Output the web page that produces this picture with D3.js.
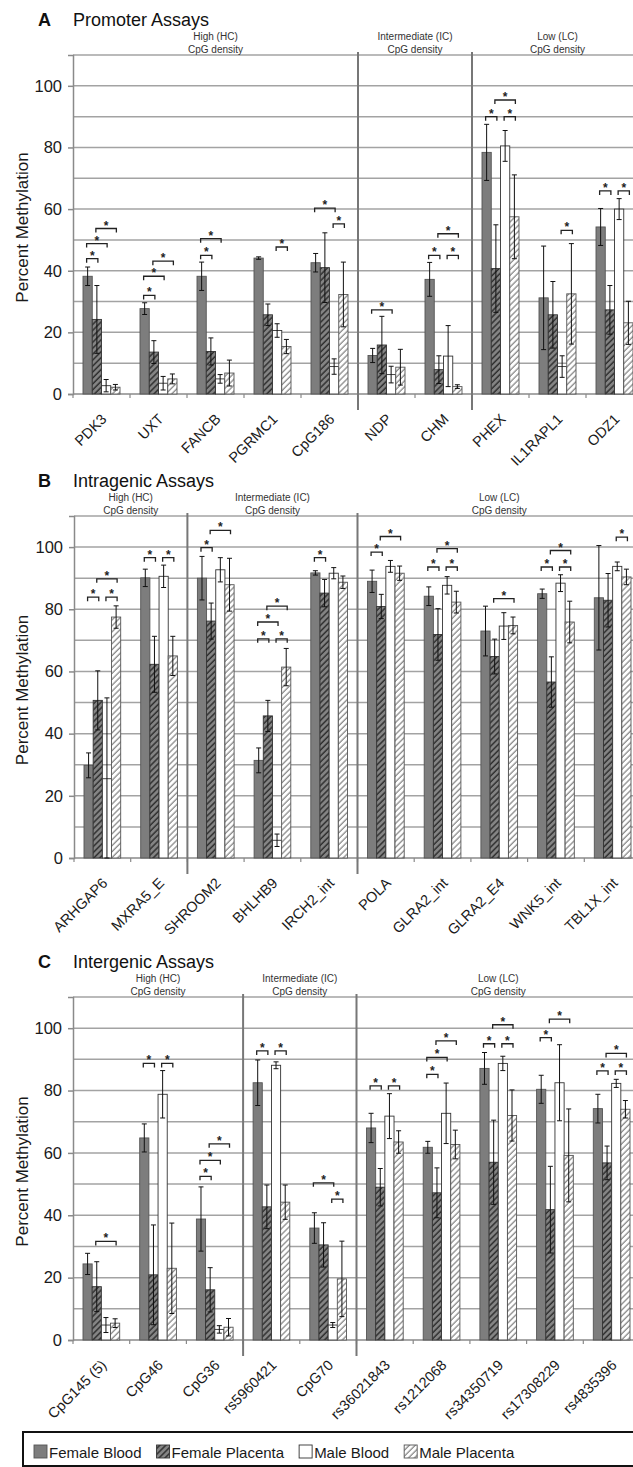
<!DOCTYPE html>
<html>
<head>
<meta charset="utf-8">
<script src="https://cdn.jsdelivr.net/npm/d3@7"></script>
<style>
body { margin: 0; background: #fff; }
svg { display: block; font-family: "Liberation Sans", Arial, sans-serif; }
</style>
</head>
<body>
<div id="chart"></div>
<script>
'use strict';

var seriesNames = ['Female Blood', 'Female Placenta', 'Male Blood', 'Male Placenta'];
var yTicks = [0, 20, 40, 60, 80, 100];

// A - promoter assays
var catsA = ['PDK3', 'UXT', 'FANCB', 'PGRMC1', 'CpG186', 'NDP', 'CHM', 'PHEX', 'IL1RAPL1', 'ODZ1'];
var sectionsA = [['High (HC)', 5], ['Intermediate (IC)', 2], ['Low (LC)', 3]];
var femaleBloodA = [38.2, 27.7, 38.2, 44.1, 42.6, 12.5, 37.2, 78.4, 31.2, 54.2];
var femalePlacentaA = [24.2, 13.6, 13.8, 25.7, 41, 15.9, 7.9, 40.7, 25.7, 27.3];
var maleBloodA = [2.7, 3.5, 4.9, 20.6, 8.9, 6.3, 12.3, 80.5, 8.9, 60];
var malePlacentaA = [2.2, 4.9, 6.8, 15.4, 32.3, 8.7, 2.4, 57.5, 32.5, 23.1];
var errFemaleBloodA = [3, 1.9, 4.6, 0.4, 3, 2.3, 5.5, 9.1, 16.8, 6];
var errFemalePlacentaA = [11, 3.7, 4.4, 3.5, 11.3, 9.3, 4.5, 14.2, 10.8, 7.9];
var errMaleBloodA = [2, 2.2, 1.4, 2.2, 2.5, 2.7, 9.9, 5, 3.5, 3.4];
var errMalePlacentaA = [0.9, 1.6, 4.2, 2.3, 10.5, 5.8, 0.6, 13.6, 16.3, 7];
// [category, from series, to series, height]
var bracketsA = [
	[0, 0, 1, 43.9], [0, 0, 2, 48.8], [0, 1, 3, 53.7],
	[1, 0, 1, 32], [1, 0, 2, 38.2], [1, 1, 3, 43.1],
	[2, 0, 1, 45], [2, 0, 2, 50.4],
	[3, 2, 3, 47.7],
	[4, 0, 2, 60.3], [4, 2, 3, 55.2],
	[5, 0, 2, 27.3],
	[6, 0, 1, 45], [6, 2, 3, 45], [6, 1, 3, 52],
	[7, 0, 1, 90], [7, 2, 3, 90], [7, 1, 3, 95.4],
	[8, 2, 3, 53.1],
	[9, 0, 1, 65.9], [9, 2, 3, 65.9]
];

// B - intragenic assays
var catsB = ['ARHGAP6', 'MXRA5_E', 'SHROOM2', 'BHLHB9', 'IRCH2_int', 'POLA', 'GLRA2_int', 'GLRA2_E4', 'WNK5_int', 'TBL1X_int'];
var sectionsB = [['High (HC)', 2], ['Intermediate (IC)', 3], ['Low (LC)', 5]];
var femaleBloodB = [29.8, 90.1, 90, 31.4, 91.7, 89, 84.2, 73, 85, 83.7];
var femalePlacentaB = [50.7, 62.3, 76.2, 45.7, 85.2, 80.9, 71.9, 64.8, 56.6, 82.9];
var maleBloodB = [25.5, 90.6, 92.7, 5.7, 91.6, 93.8, 87.7, 74.6, 88.4, 93.8];
var malePlacentaB = [77.5, 65, 87.9, 61.4, 88.7, 91.6, 82.3, 74.8, 75.9, 90.4];
var errFemaleBloodB = [4, 2.8, 7, 4, 0.7, 3.6, 3, 8, 1.5, 16.8];
var errFemalePlacentaB = [9.5, 9, 5.8, 5, 4.4, 3.9, 8.3, 5.6, 8.1, 8.6];
var errMaleBloodB = [26, 3.6, 3.9, 2, 1.8, 1.9, 2.8, 4.3, 2.7, 1.4];
var errMalePlacentaB = [3.6, 6.3, 8.5, 6, 2, 2.3, 3.5, 2.7, 6.7, 2.5];
var bracketsB = [
	[0, 0, 1, 83.9], [0, 2, 3, 83.9], [0, 1, 3, 89.8],
	[1, 0, 1, 96.6], [1, 2, 3, 96.6],
	[2, 0, 1, 99.8], [2, 1, 3, 105.4],
	[3, 0, 1, 70.5], [3, 2, 3, 70.5], [3, 0, 2, 75.9], [3, 1, 3, 81],
	[4, 0, 1, 96.6],
	[5, 0, 1, 98.4], [5, 1, 3, 103.4],
	[6, 0, 1, 93.6], [6, 2, 3, 93.6], [6, 1, 3, 99.5],
	[7, 1, 3, 83.4],
	[8, 0, 1, 93.6], [8, 2, 3, 93.6], [8, 1, 3, 98.9],
	[9, 2, 3, 103.2]
];

// C - intergenic assays
var catsC = ['CpG145 (5)', 'CpG46', 'CpG36', 'rs5960421', 'CpG70', 'rs36021843', 'rs1212068', 'rs34350719', 'rs17308229', 'rs4835396'];
var sectionsC = [['High (HC)', 3], ['Intermediate (IC)', 2], ['Low (LC)', 5]];
var femaleBloodC = [24.4, 64.8, 38.8, 82.5, 35.9, 68, 61.8, 87.1, 80.4, 74.2];
var femalePlacentaC = [17.1, 20.9, 16.1, 42.7, 30.5, 49, 47.2, 57, 41.8, 56.8];
var maleBloodC = [4.8, 78.8, 3.4, 88.1, 4.8, 71.8, 72.7, 88.7, 82.5, 82.3];
var malePlacentaC = [5.4, 23, 4.1, 44.2, 19.6, 63.5, 62.7, 72, 59.2, 74];
var errFemaleBloodC = [3.4, 4.5, 10.3, 7.3, 4.9, 4.7, 1.9, 5.1, 4.5, 4.6];
var errFemalePlacentaC = [8, 16, 7.1, 7, 7.1, 6, 8, 13.5, 13.9, 5.4];
var errMaleBloodC = [2.4, 7.6, 1.2, 1.1, 0.8, 7.2, 9.7, 2.3, 12.2, 1.3];
var errMalePlacentaC = [1.4, 14.5, 2.8, 5.5, 12.1, 3.6, 4.6, 8.2, 14.9, 2.8];
var bracketsC = [
	[0, 1, 3, 31.6],
	[1, 0, 1, 88.7], [1, 2, 3, 88.7],
	[2, 0, 1, 52.5], [2, 0, 2, 57.6], [2, 1, 3, 62.9],
	[3, 0, 1, 92.7], [3, 2, 3, 92.7],
	[4, 0, 2, 50.4], [4, 2, 3, 45.2],
	[5, 0, 1, 81.5], [5, 2, 3, 81.5],
	[6, 0, 1, 85.2], [6, 0, 2, 90.6], [6, 1, 3, 95.9],
	[7, 0, 1, 95], [7, 2, 3, 95], [7, 1, 3, 101.1],
	[8, 0, 1, 97], [8, 1, 3, 102.9],
	[9, 0, 1, 86.3], [9, 2, 3, 86.3], [9, 1, 3, 91.9]
];

var W = 633, H = 1467;
var svg = d3.select('#chart').append('svg').attr('width', W).attr('height', H);

var defs = svg.append('defs');
function hatch(id, bg, fg, sw) {
	var p = defs.append('pattern')
		.attr('id', id)
		.attr('patternUnits', 'userSpaceOnUse')
		.attr('width', 4.2).attr('height', 4.2)
		.attr('patternTransform', 'rotate(45)');
	p.append('rect').attr('width', 4.2).attr('height', 4.2).attr('fill', bg);
	p.append('line').attr('x1', 1).attr('x2', 1).attr('y1', 0).attr('y2', 4.2)
		.attr('stroke', fg).attr('stroke-width', sw);
}
hatch('hatchDark', '#858585', '#2f2f2f', 1.5);
hatch('hatchLight', '#ffffff', '#8a8a8a', 1.3);

var fills = ['#7d7d7d', 'url(#hatchDark)', '#ffffff', 'url(#hatchLight)'];
var strokes = ['#555', '#333', '#333', '#555'];

function drawPanel(cfg) {
	var g = svg.append('g');
	var n = cfg.cats.length;
	var x = d3.scaleBand().domain(d3.range(n)).range([cfg.left, cfg.left + n * cfg.cw]);
	var xs = d3.scaleBand().domain(d3.range(4)).range([10, cfg.cw - 10]);
	var y = d3.scaleLinear().domain([0, 110]).range([cfg.bottom, cfg.top]);
	var right = cfg.left + n * cfg.cw + 20;

	// grid
	g.append('g').selectAll('line')
		.data(d3.range(10, 111, 10))
		.enter().append('line')
		.attr('x1', cfg.left).attr('x2', right)
		.attr('y1', function(d){ return y(d); }).attr('y2', function(d){ return y(d); })
		.attr('stroke', '#a3a3a3').attr('stroke-width', 1.5);

	// y axis
	var ya = g.append('g').attr('transform', 'translate(' + cfg.left + ',0)')
		.call(d3.axisLeft(y).tickValues(yTicks).tickSize(5).tickPadding(6));
	ya.select('.domain').attr('stroke', '#8a8a8a').attr('stroke-width', 1.5);
	ya.selectAll('.tick line').attr('stroke', '#8a8a8a').attr('stroke-width', 1.5);
	ya.selectAll('.tick text').attr('font-size', 16.5).attr('fill', '#1a1a1a')
		.attr('font-family', '"Liberation Sans", Arial, sans-serif');

	// x axis line + boundary ticks
	g.append('line').attr('x1', cfg.left).attr('x2', right)
		.attr('y1', cfg.bottom).attr('y2', cfg.bottom)
		.attr('stroke', '#8a8a8a').attr('stroke-width', 1.5);
	g.append('g').selectAll('line')
		.data(d3.range(n + 1))
		.enter().append('line')
		.attr('x1', function(i){ return cfg.left + i * cfg.cw; })
		.attr('x2', function(i){ return cfg.left + i * cfg.cw; })
		.attr('y1', cfg.bottom).attr('y2', cfg.bottom + 4)
		.attr('stroke', '#8a8a8a').attr('stroke-width', 1.2);

	// section dividers + labels
	var start = 0;
	cfg.sections.forEach(function(s, k) {
		var x0 = cfg.left + start * cfg.cw;
		var x1 = cfg.left + (start + s[1]) * cfg.cw;
		var t = g.append('text').attr('text-anchor', 'middle')
			.attr('font-size', 10).attr('fill', '#333');
		t.append('tspan').attr('x', (x0 + x1) / 2).attr('y', cfg.top - 15).text(s[0]);
		t.append('tspan').attr('x', (x0 + x1) / 2).attr('y', cfg.top - 2).text('CpG density');
		if (k > 0) {
			g.append('line').attr('x1', x0).attr('x2', x0)
				.attr('y1', cfg.top - 3).attr('y2', cfg.bottom + 16)
				.attr('stroke', '#777').attr('stroke-width', 2);
		}
		start += s[1];
	});

	// bars
	cfg.values.forEach(function(vals, s) {
		g.append('g').selectAll('rect')
			.data(vals)
			.enter().append('rect')
			.attr('x', function(d, i){ return x(i) + xs(s); })
			.attr('y', function(d){ return y(d); })
			.attr('width', xs.bandwidth())
			.attr('height', function(d){ return cfg.bottom - y(d); })
			.attr('fill', fills[s])
			.attr('stroke', strokes[s]).attr('stroke-width', 0.9);
	});

	// error bars
	cfg.values.forEach(function(vals, s) {
		var eg = g.append('g').attr('stroke', '#111').attr('stroke-width', 1);
		vals.forEach(function(v, i) {
			var e = cfg.errors[s][i];
			var cx = x(i) + xs(s) + xs.bandwidth() / 2;
			var lo = Math.max(0, v - e), hi = v + e;
			eg.append('line').attr('x1', cx).attr('x2', cx).attr('y1', y(lo)).attr('y2', y(hi));
			eg.append('line').attr('x1', cx - 2.5).attr('x2', cx + 2.5).attr('y1', y(hi)).attr('y2', y(hi));
			eg.append('line').attr('x1', cx - 2.5).attr('x2', cx + 2.5).attr('y1', y(lo)).attr('y2', y(lo));
		});
	});

	// significance brackets
	var bg = g.append('g');
	cfg.brackets.forEach(function(b) {
		var xa = x(b[0]) + xs(b[1]) + xs.bandwidth() / 2 - 1;
		var xb = x(b[0]) + xs(b[2]) + xs.bandwidth() / 2 + 1;
		var yy = y(b[3]);
		bg.append('path')
			.attr('d', 'M' + xa + ',' + (yy + 4) + 'V' + yy + 'H' + xb + 'V' + (yy + 4))
			.attr('fill', 'none').attr('stroke', '#222').attr('stroke-width', 1.3);
		bg.append('text').attr('x', (xa + xb) / 2).attr('y', yy + 1)
			.attr('text-anchor', 'middle').attr('font-size', 12).attr('font-weight', 'bold')
			.attr('fill', '#222').text('*');
	});

	// category labels
	g.append('g').selectAll('text')
		.data(cfg.cats)
		.enter().append('text')
		.attr('transform', function(d, i){
			return 'translate(' + (x(i) + cfg.cw / 2 + 6) + ',' + (cfg.bottom + 26) + ') rotate(-45)';
		})
		.attr('text-anchor', 'end').attr('font-size', 14.5).attr('fill', '#1a1a1a')
		.text(function(d){ return d; });

	// y title
	g.append('text')
		.attr('transform', 'translate(28,' + ((cfg.top + cfg.bottom) / 2 + 3) + ') rotate(-90)')
		.attr('text-anchor', 'middle').attr('font-size', 17).attr('fill', '#1a1a1a')
		.text('Percent Methylation');

	// panel title
	g.append('text').attr('x', 38).attr('y', cfg.top - 29)
		.attr('font-size', 18).attr('font-weight', 'bold').attr('fill', '#111').text(cfg.letter);
	g.append('text').attr('x', 73).attr('y', cfg.top - 29)
		.attr('font-size', 18).attr('fill', '#111').text(cfg.title);
}

drawPanel({
	letter: 'A', title: 'Promoter Assays', top: 55, bottom: 394, left: 73, cw: 57,
	cats: catsA, sections: sectionsA,
	values: [femaleBloodA, femalePlacentaA, maleBloodA, malePlacentaA],
	errors: [errFemaleBloodA, errFemalePlacentaA, errMaleBloodA, errMalePlacentaA],
	brackets: bracketsA
});
drawPanel({
	letter: 'B', title: 'Intragenic Assays', top: 516, bottom: 858, left: 74, cw: 56.7,
	cats: catsB, sections: sectionsB,
	values: [femaleBloodB, femalePlacentaB, maleBloodB, malePlacentaB],
	errors: [errFemaleBloodB, errFemalePlacentaB, errMaleBloodB, errMalePlacentaB],
	brackets: bracketsB
});
drawPanel({
	letter: 'C', title: 'Intergenic Assays', top: 997, bottom: 1340, left: 73, cw: 56.7,
	cats: catsC, sections: sectionsC,
	values: [femaleBloodC, femalePlacentaC, maleBloodC, malePlacentaC],
	errors: [errFemaleBloodC, errFemalePlacentaC, errMaleBloodC, errMalePlacentaC],
	brackets: bracketsC
});

// legend
var lg = svg.append('g');
lg.append('rect').attr('x', 23).attr('y', 1432).attr('width', 640).attr('height', 34)
	.attr('fill', 'none').attr('stroke', '#111').attr('stroke-width', 2);
var lx = 34;
seriesNames.forEach(function(name, s) {
	lg.append('rect').attr('x', lx).attr('y', 1445).attr('width', 13).attr('height', 13)
		.attr('fill', fills[s]).attr('stroke', strokes[s]).attr('stroke-width', 0.9);
	var t = lg.append('text').attr('x', lx + 15).attr('y', 1457.5)
		.attr('font-size', 15).attr('fill', '#1a1a1a').text(name);
	lx += 15 + t.node().getComputedTextLength() + 15;
});
</script>
</body>
</html>
